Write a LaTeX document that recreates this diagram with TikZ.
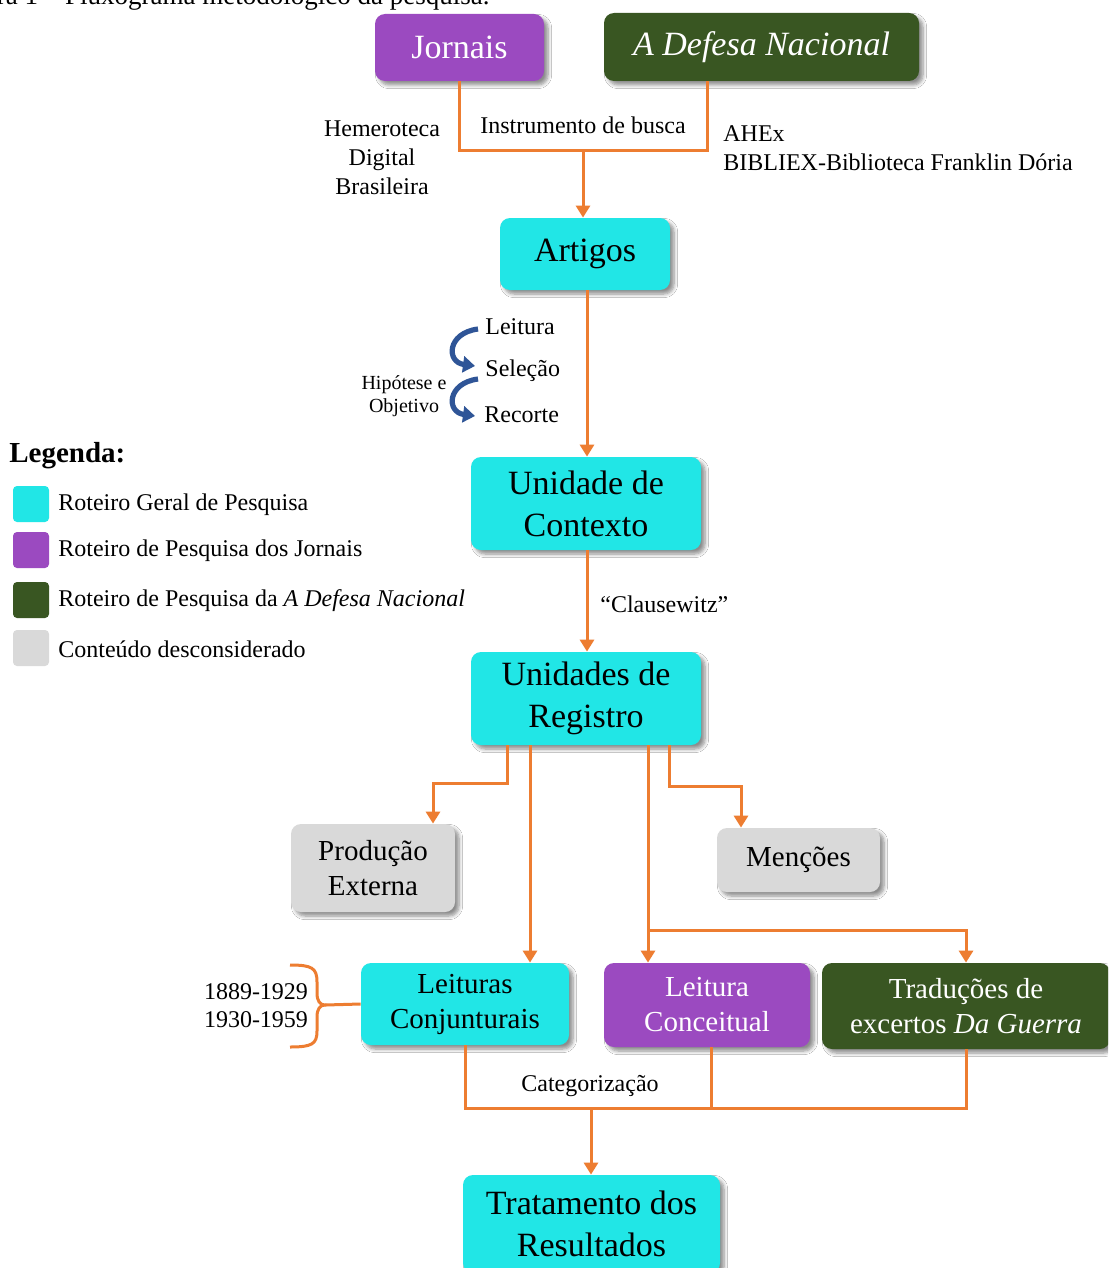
\documentclass[tikz,border=0pt]{standalone}
\usepackage{fontspec}
\setmainfont{Liberation Serif}
\usetikzlibrary{arrows.meta,shadows.blur}
\definecolor{cy}{RGB}{33,230,230}
\definecolor{pu}{RGB}{155,74,192}
\definecolor{gr}{RGB}{57,86,34}
\definecolor{gy}{RGB}{217,217,217}
\definecolor{orl}{RGB}{237,125,49}
\definecolor{bl}{RGB}{47,85,151}
\begin{document}
\begin{tikzpicture}[x=0.5pt,y=-0.5pt,
  box/.style={rectangle, rounded corners=5pt, align=center, inner sep=0pt,
    blur shadow={shadow xshift=2pt, shadow yshift=-2pt, shadow blur steps=6, shadow opacity=45}},
  bigf/.style={font=\fontsize{17}{21}\selectfont},
  midf/.style={font=\fontsize{14.5}{17.5}\selectfont},
  lab/.style={font=\fontsize{12}{14.5}\selectfont, inner sep=0pt, align=center},
  oline/.style={draw=orl, line width=1.5pt},
  oarrow/.style={oline, -{Triangle[width=7pt,length=6pt]}},
  barrow/.style={draw=bl, line width=2.6pt, -{Triangle[width=8pt,length=6pt]}},
  leg/.style={rectangle, rounded corners=2pt, minimum width=18pt, minimum height=18pt, inner sep=0pt}]
\useasboundingbox (0,0) rectangle (1108,1268);
\clip (0,0) rectangle (1108,1268);
\fill[white] (0,0) rectangle (1108,1268);

% caption (cut off at top)
\node[anchor=base east, inner sep=0pt, font=\fontsize{13.5}{16}\selectfont] (caption) at (490,4.5) {Figura 1 – Fluxograma metodológico da pesquisa.};

% boxes
\node[box, fill=pu, text=white, minimum width=84.5pt, minimum height=33.5pt, bigf] (jornais) at (459.5,47.5) {Jornais};
\node[box, fill=gr, text=white, minimum width=157.5pt, minimum height=34pt, bigf] (defesa) at (761.5,47) {\itshape A Defesa Nacional};
\node[box, fill=cy, minimum width=85pt, minimum height=36pt, bigf] (artigos) at (585,254) {Artigos};
\node[box, fill=cy, minimum width=115pt, minimum height=46.5pt, bigf] (contexto) at (586,503.5) {Unidade de\\Contexto};
\node[box, fill=cy, minimum width=115pt, minimum height=46.5pt, bigf] (registro) at (586,698.5) {Unidades de\\Registro};
\node[box, fill=gy, minimum width=82pt, minimum height=44pt, midf] (producao) at (373,868) {Produção\\Externa};
\node[box, fill=gy, minimum width=81.5pt, minimum height=32pt, midf] (mencoes) at (798.5,860) {Menções};
\node[box, fill=cy, minimum width=104pt, minimum height=41pt, midf] (conj) at (465,1004) {Leituras\\Conjunturais};
\node[box, fill=pu, text=white, minimum width=103pt, minimum height=42pt, midf] (conc) at (707,1005) {Leitura\\Conceitual};
\node[box, fill=gr, text=white, minimum width=144pt, minimum height=43pt, midf] (trad) at (966,1006) {Traduções de\\excertos \textit{Da Guerra}};
\node[box, fill=cy, minimum width=128.5pt, minimum height=49pt, bigf] (trat) at (591.5,1224) {Tratamento dos\\Resultados};

% labels
\node[lab] (busca) at (583,125) {Instrumento de busca};
\node[lab] (hemero) at (382,158) {Hemeroteca\\Digital\\Brasileira};
\node[lab, anchor=west, align=left] (ahex) at (723,148) {AHEx\\BIBLIEX-Biblioteca Franklin Dória};
\node[lab, anchor=west] (leitura) at (485,327) {Leitura};
\node[lab, anchor=west] (selecao) at (485,371) {Seleção};
\node[lab, anchor=west] (recorte) at (484,415) {Recorte};
\node[lab, font=\fontsize{10}{11.5}\selectfont] (hipo) at (404,396) {Hipótese e\\Objetivo};
\node[lab, anchor=west] (claus) at (600,604) {“Clausewitz”};
\node[lab] (categ) at (590,1086) {Categorização};
\node[lab, font=\fontsize{12}{14}\selectfont] (anos) at (256,1006) {1889-1929\\1930-1959};

% legend
\node[anchor=west, inner sep=0pt, font=\fontsize{14.5}{17}\selectfont\bfseries] (legenda) at (9,456) {Legenda:};
\node[leg, fill=cy] (l1) at (31,504) {};
\node[leg, fill=pu] (l2) at (31,550) {};
\node[leg, fill=gr] (l3) at (31,600) {};
\node[leg, fill=gy] (l4) at (31,648) {};
\node[lab, anchor=west] (t1) at (58,505) {Roteiro Geral de Pesquisa};
\node[lab, anchor=west] (t2) at (58,551) {Roteiro de Pesquisa dos Jornais};
\node[lab, anchor=west] (t3) at (58,601) {Roteiro de Pesquisa da \textit{A Defesa Nacional}};
\node[lab, anchor=west] (t4) at (58,649) {Conteúdo desconsiderado};

% connectors top
\coordinate (jb) at (459,150);
\coordinate (db) at (707,150);
\coordinate (mb) at (583,150);
\draw[oline] (jornais.south -| jb) -- (jb) -- (db) -- (defesa.south -| db);
\draw[oarrow] (mb) -- (artigos.north -| mb);
\coordinate (ac) at (587,0);
\draw[oarrow] (artigos.south -| ac) -- (contexto.north -| ac);
\draw[oarrow] (contexto.south -| ac) -- (registro.north -| ac);

% blue curved arrows
\draw[barrow] (478,329) .. controls (447,333) and (446,362) .. (475,366);
\draw[barrow] (478,379) .. controls (447,383) and (446,412) .. (475,416);

% registro branches
\coordinate (r1) at (507,783);
\coordinate (r1b) at (433,783);
\draw[oarrow] (registro.south -| r1) -- (r1) -- (r1b) -- (producao.north -| r1b);
\coordinate (r2) at (530,0);
\draw[oarrow] (registro.south -| r2) -- (conj.north -| r2);
\coordinate (r3) at (648,930);
\coordinate (r3b) at (966,930);
\draw[oarrow] (registro.south -| r3) -- (conc.north -| r3);
\draw[oarrow] (r3) -- (r3b) -- (trad.north -| r3b);
\coordinate (r4) at (669,786);
\coordinate (r4b) at (741,786);
\draw[oarrow] (registro.south -| r4) -- (r4) -- (r4b) -- (mencoes.north -| r4b);

% bottom merge
\coordinate (b1) at (465,1108);
\coordinate (b2) at (711,1108);
\coordinate (b3) at (966,1108);
\coordinate (bm) at (591,1108);
\draw[oline] (conj.south -| b1) -- (b1) -- (b3) -- (trad.south -| b3);
\draw[oline] (conc.south -| b2) -- (b2);
\draw[oarrow] (bm) -- (trat.north -| bm);

% brace
\coordinate (tip) at (325,1005);
\draw[oline] (290,965) .. controls (312,965) and (317,968) .. (317,982) -- (317,993)
  .. controls (317,1001) and (320,1005) .. (tip)
  .. controls (320,1005) and (317,1009) .. (317,1017) -- (317,1031)
  .. controls (317,1044) and (312,1047) .. (290,1047);
\draw[oline] (tip) -- (conj.west);
\end{tikzpicture}
\end{document}
